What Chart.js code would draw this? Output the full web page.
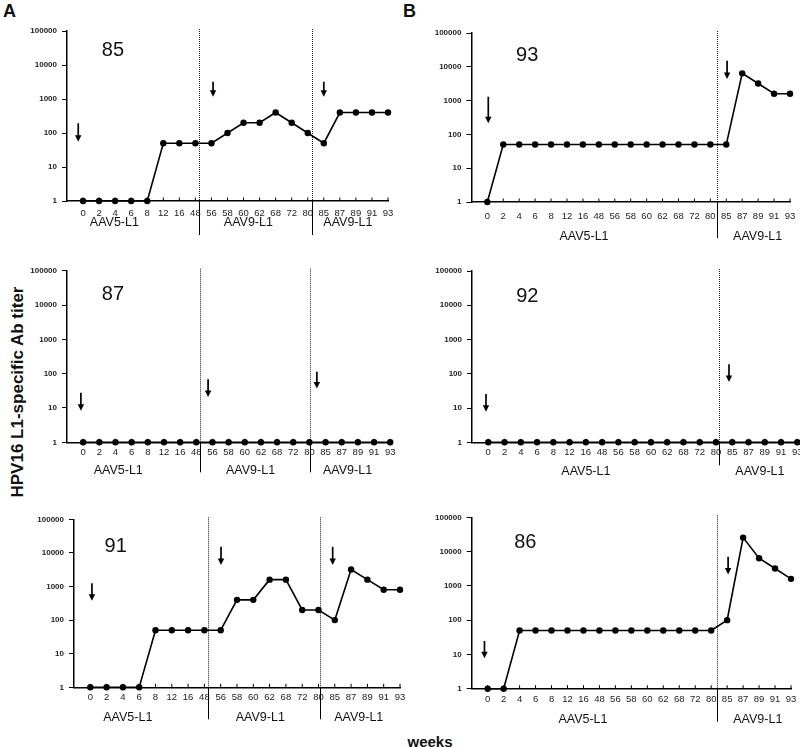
<!DOCTYPE html>
<html><head><meta charset="utf-8">
<script src="https://cdn.jsdelivr.net/npm/chart.js@4.4.1/dist/chart.umd.min.js"></script>
<style>
html,body{margin:0;padding:0;background:#fff;overflow:hidden;width:800px;height:747px;position:relative;font-family:"Liberation Sans",Arial,sans-serif;}
canvas{position:absolute;}
.t{position:absolute;font-weight:bold;color:#111;white-space:nowrap;line-height:1;}
</style></head><body>
<div class="t" style="left:3px;top:2px;font-size:18px">A</div>
<div class="t" style="left:403px;top:2px;font-size:18px">B</div>
<div class="t" style="left:17px;top:392px;font-size:17px;transform:translate(-50%,-50%) rotate(-90deg)">HPV16 L1-specific Ab titer</div>
<div class="t" style="left:430px;top:741px;font-size:15px;transform:translate(-50%,-50%)">weeks</div>
<canvas id="c85"></canvas><canvas id="c87"></canvas><canvas id="c91"></canvas>
<canvas id="c93"></canvas><canvas id="c92"></canvas><canvas id="c86"></canvas>
<script>
// ---- data ----
const weeks = ['0','2','4','6','8','12','16','48','56','58','60','62','68','72','80','85','87','89','91','93'];
const yTicks = [1, 10, 100, 1000, 10000, 100000];
const groupsA = ['AAV5-L1', 'AAV9-L1', 'AAV9-L1'];
const groupsB = ['AAV5-L1', 'AAV9-L1'];
const titer85 = [1,1,1,1,1,50,50,50,50,100,200,200,400,200,100,50,400,400,400,400];
const titer87 = [1,1,1,1,1,1,1,1,1,1,1,1,1,1,1,1,1,1,1,1];
const titer91 = [1,1,1,1,50,50,50,50,50,400,400,1600,1600,200,200,100,3200,1600,800,800];
const titer93 = [1,50,50,50,50,50,50,50,50,50,50,50,50,50,50,50,6400,3200,1600,1600];
const titer92 = [1,1,1,1,1,1,1,1,1,1,1,1,1,1,1,1,1,1,1,1];
const titer86 = [1,1,50,50,50,50,50,50,50,50,50,50,50,50,50,100,25600,6400,3200,1600];

const FONT = '"Liberation Sans", Arial, sans-serif';

const panelPlugin = {
  id: 'panel',
  beforeDatasetsDraw(chart) {
    const o = chart.options.plugins.panel;
    const ctx = chart.ctx, a = chart.chartArea, xs = chart.scales.x, ys = chart.scales.y;
    ctx.save();
    ctx.lineWidth = 1;
    o.separators.forEach(s => {
      const px = Math.round(xs.getPixelForValue(s)) + 0.5;
      ctx.strokeStyle = '#222'; ctx.setLineDash([1, 1]);
      ctx.beginPath(); ctx.moveTo(px, a.top - 2); ctx.lineTo(px, a.bottom); ctx.stroke();
      ctx.setLineDash([]); ctx.strokeStyle = '#000';
      ctx.beginPath(); ctx.moveTo(px, a.bottom); ctx.lineTo(px, a.bottom + o.sepBelow); ctx.stroke();
    });
    ctx.strokeStyle = '#000';
    weeks.forEach((w, i) => {
      const px = xs.getPixelForValue(i);
      ctx.beginPath(); ctx.moveTo(px, a.bottom); ctx.lineTo(px, a.bottom - 3.5); ctx.stroke();
    });
    ctx.fillStyle = '#111'; ctx.textAlign = 'center'; ctx.textBaseline = 'middle';
    ctx.font = '12.5px ' + FONT;
    o.groups.forEach((g, i) => ctx.fillText(g, xs.getPixelForValue(o.groupPos[i]), a.bottom + o.groupOffset));
    ctx.font = '20px ' + FONT;
    ctx.fillText(o.label, xs.getPixelForValue(o.labelPos[0]), ys.getPixelForValue(o.labelPos[1]));
    ctx.fillStyle = '#000'; ctx.lineWidth = 1.7;
    o.arrows.forEach(ar => {
      const px = xs.getPixelForValue(ar.x), y0 = ys.getPixelForValue(ar.from), y1 = ys.getPixelForValue(ar.to);
      ctx.beginPath(); ctx.moveTo(px, y0); ctx.lineTo(px, y1 - 5); ctx.stroke();
      ctx.beginPath(); ctx.moveTo(px - 3.2, y1 - 6.5); ctx.lineTo(px + 3.2, y1 - 6.5); ctx.lineTo(px, y1); ctx.closePath(); ctx.fill();
    });
    ctx.restore();
  }
};

function makePanel(id, values, box, p) {
  const cv = document.getElementById(id);
  cv.width = box.w; cv.height = box.h;
  cv.style.left = box.x + 'px'; cv.style.top = box.y + 'px';
  cv.style.width = box.w + 'px'; cv.style.height = box.h + 'px';
  new Chart(cv, {
    type: 'line',
    data: { datasets: [{
      data: values.map((v, i) => ({ x: i, y: v })),
      borderColor: '#000', borderWidth: 1.6, tension: 0,
      pointRadius: 3.2, pointBackgroundColor: '#000', pointBorderWidth: 0,
      clip: false
    }]},
    options: {
      responsive: false, animation: false,
      layout: { padding: { top: p.padTop, right: p.padRight, left: 0, bottom: 0 } },
      plugins: {
        legend: { display: false }, tooltip: { enabled: false },
        panel: p
      },
      scales: {
        x: {
          type: 'linear', min: -1, max: 19,
          afterBuildTicks: s => { s.ticks = weeks.map((w, i) => ({ value: i })); },
          afterFit: s => { s.height = p.xH; },
          grid: { display: false, drawTicks: false },
          border: { display: true, color: '#000', width: 1.5 },
          ticks: { autoSkip: false, maxRotation: 0, padding: p.tickPad, color: '#222',
                   font: { family: FONT, size: 9.5 }, callback: v => weeks[v] ?? '' }
        },
        y: {
          type: 'logarithmic', min: 1, max: 100000,
          afterBuildTicks: s => { s.ticks = yTicks.map(v => ({ value: v })); },
          afterFit: s => { s.width = p.yW; },
          grid: { drawOnChartArea: false, drawTicks: true, tickLength: 5, color: '#000', lineWidth: 1 },
          border: { display: true, color: '#000', width: 1.5 },
          ticks: { padding: 5, color: '#222', font: { family: FONT, size: 8, weight: 'bold' },
                   callback: v => String(v) }
        }
      }
    },
    plugins: [panelPlugin]
  });
}

makePanel('c85', titer85, { x: 0, y: 0, w: 400, h: 250 }, {
  yW: 67, padTop: 31, xH: 49, padRight: 12, tickPad: 6.5,
  label: '85', labelPos: [1.86, 27500],
  separators: [7.25, 14.25], sepBelow: 34,
  groups: groupsA, groupPos: [1.95, 10.3, 16.5], groupOffset: 22,
  arrows: [{ x: -0.3, from: 193, to: 55 }, { x: 8.1, from: 3230, to: 1170 }, { x: 15, from: 3230, to: 1170 }]
});
makePanel('c87', titer87, { x: 0, y: 250, w: 400, h: 230 }, {
  yW: 67, padTop: 20.7, xH: 37.7, padRight: 7, tickPad: 4.5,
  label: '87', labelPos: [1.84, 20400],
  separators: [7.22, 14.05], sepBelow: 30,
  groups: groupsA, groupPos: [2.17, 10.36, 16.36], groupOffset: 28,
  arrows: [{ x: -0.14, from: 28, to: 8.3 }, { x: 7.73, from: 69, to: 21 }, { x: 14.46, from: 114, to: 37 }]
});
makePanel('c91', titer91, { x: 0, y: 480, w: 410, h: 267 }, {
  yW: 74, padTop: 39.3, xH: 59.7, padRight: 10, tickPad: 4.5,
  label: '91', labelPos: [1.56, 15800],
  separators: [7.24, 14.09], sepBelow: 32,
  groups: groupsA, groupPos: [2.3, 10.43, 16.47], groupOffset: 30,
  arrows: [{ x: 0.1, from: 1245, to: 378 }, { x: 8.02, from: 15200, to: 4360 }, { x: 14.87, from: 15200, to: 4360 }]
});
makePanel('c93', titer93, { x: 400, y: 0, w: 405, h: 250 }, {
  yW: 71.4, padTop: 33, xH: 48, padRight: 15, tickPad: 8.5,
  label: '93', labelPos: [2.5, 21400],
  separators: [14.4], sepBelow: 36,
  groups: groupsB, groupPos: [6.07, 16.97], groupOffset: 35,
  arrows: [{ x: 0.06, from: 1300, to: 212 }, { x: 15.05, from: 15100, to: 4350 }]
});
makePanel('c92', titer92, { x: 400, y: 250, w: 410, h: 230 }, {
  yW: 72, padTop: 21, xH: 37.7, padRight: 12.7, tickPad: 4.5,
  label: '92', labelPos: [2.4, 18600],
  separators: [14.19], sepBelow: 23,
  groups: groupsB, groupPos: [6.0, 16.7], groupOffset: 29,
  arrows: [{ x: -0.14, from: 25.5, to: 7.8 }, { x: 14.8, from: 191, to: 58 }]
});
makePanel('c86', titer86, { x: 400, y: 480, w: 405, h: 267 }, {
  yW: 71.7, padTop: 37.3, xH: 58.3, padRight: 14, tickPad: 4.5,
  label: '86', labelPos: [2.36, 18200],
  separators: [14.39], sepBelow: 33,
  groups: groupsB, groupPos: [5.97, 16.92], groupOffset: 31,
  arrows: [{ x: -0.2, from: 24.6, to: 7.7 }, { x: 15.06, from: 7070, to: 2160 }]
});
</script>
</body></html>
